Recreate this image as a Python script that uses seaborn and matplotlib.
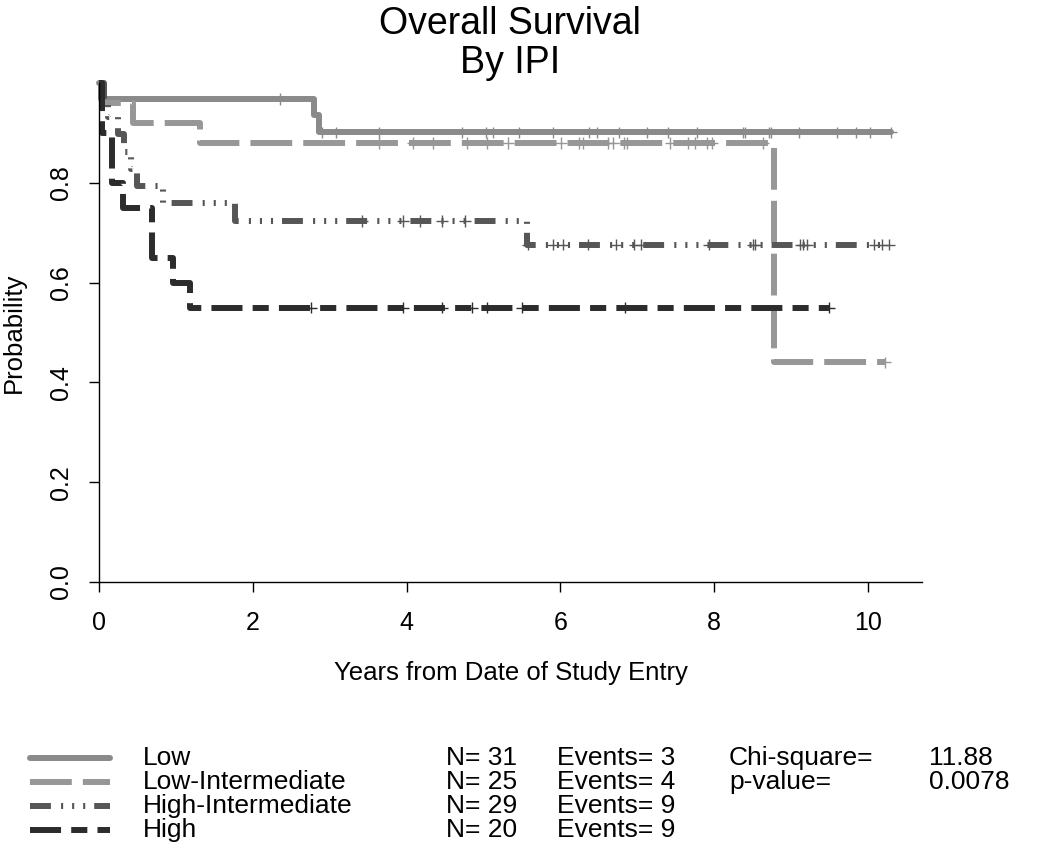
import numpy as np
import pandas as pd
import matplotlib
matplotlib.use("Agg")
import matplotlib.pyplot as plt
import seaborn as sns
from matplotlib.lines import Line2D

# Kaplan-Meier curves: step times, survival after each step,
# last follow-up time and censoring times per IPI group
groups = ["Low", "Low-Intermediate", "High-Intermediate", "High"]

low_times = [0.03, 2.80, 2.86]
low_surv = [0.968, 0.935, 0.901]
low_end = 10.30
low_cens = [2.35, 2.90, 3.08, 3.64, 4.72, 5.03, 5.12, 5.46, 5.90, 6.37, 6.48, 6.76,
            7.13, 7.40, 7.78, 8.37, 8.40, 8.71, 8.74, 9.10, 9.60, 9.84, 10.03, 10.30]

lowint_times = [0.05, 0.44, 1.31, 8.77]
lowint_surv = [0.96, 0.92, 0.88, 0.44]
lowint_end = 10.22
lowint_cens = [3.64, 4.08, 4.34, 4.79, 5.05, 5.32, 6.01, 6.24, 6.29, 6.62, 6.68, 6.83,
               6.87, 7.43, 7.66, 7.75, 7.91, 7.97, 8.63, 10.22]

highint_times = [0.06, 0.12, 0.25, 0.33, 0.42, 0.50, 0.83, 1.77, 5.57]
highint_surv = [0.966, 0.931, 0.897, 0.862, 0.828, 0.793, 0.759, 0.724, 0.676]
highint_end = 10.27
highint_cens = [3.42, 3.95, 4.17, 4.46, 4.76, 5.58, 5.90, 6.03, 6.36, 6.72, 6.96, 7.05,
                7.93, 8.50, 8.53, 9.12, 9.15, 9.21, 10.08, 10.18, 10.27]

high_times = [0.04, 0.17, 0.31, 0.69, 0.96, 1.18]
high_surv = [0.90, 0.80, 0.75, 0.65, 0.60, 0.55]
high_end = 9.49
high_cens = [2.76, 3.95, 4.46, 4.85, 5.05, 5.50, 6.84, 9.49]

n_patients = [31, 25, 29, 20]
n_events = [3, 4, 9, 9]
chi_square = 11.88
p_value = 0.0078

# styling
colors = {"Low": "#8a8a8a", "Low-Intermediate": "#979797",
          "High-Intermediate": "#565656", "High": "#2c2c2c"}
LW = 4.3
dashes = {"Low": "",
          "Low-Intermediate": (7.0, 1.85),
          "High-Intermediate": (3.5, 1.7, 0.35, 1.5, 0.35, 1.5, 0.35, 1.5),
          "High": (5.2, 1.7, 2.7, 1.7)}

curves = {
    "Low": (low_times, low_surv, low_end, low_cens),
    "Low-Intermediate": (lowint_times, lowint_surv, lowint_end, lowint_cens),
    "High-Intermediate": (highint_times, highint_surv, highint_end, highint_cens),
    "High": (high_times, high_surv, high_end, high_cens),
}


def build_frames():
    step_rows, cens_rows = [], []
    for g in groups:
        times, surv, end, cens = curves[g]
        t = [0.0] + list(times) + [end]
        s = [1.0] + list(surv) + [surv[-1]]
        for ti, si in zip(t, s):
            step_rows.append((g, ti, si))
        # censor mark sits on the curve level at that time
        for c in cens:
            idx = np.searchsorted(t, c, side="right") - 1
            cens_rows.append((g, c, s[idx]))
    steps = pd.DataFrame(step_rows, columns=["group", "years", "prob"])
    marks = pd.DataFrame(cens_rows, columns=["group", "years", "prob"])
    return steps, marks


steps_df, cens_df = build_frames()

sns.set_style("ticks")
plt.rcParams["font.family"] = ["Liberation Sans", "DejaVu Sans"]
plt.rcParams["text.color"] = "black"
plt.rcParams["axes.labelcolor"] = "black"
plt.rcParams["xtick.color"] = "black"
plt.rcParams["ytick.color"] = "black"

W, H = 1050, 852
fig = plt.figure(figsize=(W / 100, H / 100), dpi=100)
ax = fig.add_axes([99 / W, (H - 582) / H, 823 / W, 499 / H])

sns.lineplot(data=steps_df, x="years", y="prob", hue="group", style="group",
             hue_order=groups, style_order=groups, palette=colors, dashes=dashes,
             drawstyle="steps-post", estimator=None, sort=False, linewidth=LW,
             legend=False, clip_on=False, ax=ax)

sns.scatterplot(data=cens_df, x="years", y="prob", hue="group", hue_order=groups,
                palette=colors, marker="+", s=70, linewidth=1.0, legend=False,
                clip_on=False, zorder=3, ax=ax)

ax.set_xlim(0, 10.70)
ax.set_ylim(0, 1.0)
ax.set_xticks([0, 2, 4, 6, 8, 10])
ax.set_yticks([0.0, 0.2, 0.4, 0.6, 0.8])
ax.set_yticklabels(["0.0", "0.2", "0.4", "0.6", "0.8"])
sns.despine(ax=ax)
for sp in ["left", "bottom"]:
    ax.spines[sp].set_linewidth(1.0)
    ax.spines[sp].set_color("black")
ax.tick_params(axis="both", length=7, width=1.0, color="black", labelcolor="black",
               labelsize=18)
ax.tick_params(axis="x", pad=14)
ax.tick_params(axis="y", pad=12, labelrotation=90)
for lab in ax.get_yticklabels():
    lab.set_va("center")

ax.set_xlabel("Years from Date of Study Entry", fontsize=18.5, color="black")
ax.set_ylabel("Probability", fontsize=18.5, color="black")
ax.xaxis.set_label_coords(0.5, -0.158)
ax.yaxis.set_label_coords(-0.089, 0.5)

fig.text(510 / W, 1 - 6 / H, "Overall Survival\nBy IPI", ha="center", va="top",
         fontsize=27, linespacing=1.12, color="black")

# legend block under the plot (drawn by hand, R-style)
def px(x, y):
    return x / W, 1 - y / H

row_y = [758, 782, 806, 830]
for g, ry, n, ev in zip(groups, row_y, n_patients, n_events):
    x0, y0 = px(30, ry)
    x1, _ = px(110, ry)
    ln = Line2D([x0, x1], [y0, y0], transform=fig.transFigure, color=colors[g],
                linewidth=LW)
    if dashes[g]:
        ln.set_dashes(dashes[g])
    fig.add_artist(ln)
    fig.text(*px(143, ry), g, fontsize=19, va="center", ha="left")
    fig.text(*px(446, ry), f"N= {n}", fontsize=19, va="center", ha="left")
    fig.text(*px(557, ry), f"Events= {ev}", fontsize=19, va="center", ha="left")

fig.text(*px(729, row_y[0]), "Chi-square=", fontsize=19, va="center", ha="left")
fig.text(*px(929, row_y[0]), f"{chi_square:.2f}", fontsize=19, va="center", ha="left")
fig.text(*px(729, row_y[1]), "p-value=", fontsize=19, va="center", ha="left")
fig.text(*px(929, row_y[1]), f"{p_value:.4f}", fontsize=19, va="center", ha="left")

fig.savefig("out.png", dpi=100)
